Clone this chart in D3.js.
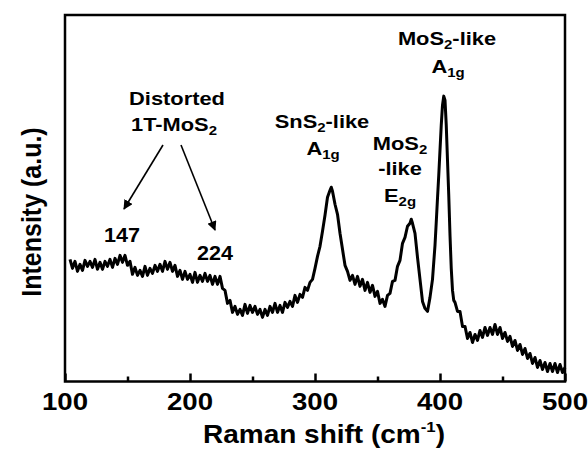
<!DOCTYPE html>
<html>
<head>
<meta charset="utf-8">
<script src="https://cdn.jsdelivr.net/npm/d3@7"></script>
<style>
  body { margin: 0; background: #fff; }
  text { font-family: "Liberation Sans", Arial, sans-serif; font-weight: bold; fill: #000; }
</style>
</head>
<body>
<div id="chart"></div>
<script>
// Raman shift (cm-1) and intensity (a.u.)
const shift = [
  104,106,108,110,112,114,116,118,120,122,124,126,128,130,132,134,136,138,140,142,
  144,146,148,150,152,154,156,158,160,162,164,166,168,170,172,174,176,178,180,182,
  184,186,188,190,192,194,196,198,200,202,204,206,208,210,212,214,216,218,220,222,
  224,226,228,230,232,234,236,238,240,242,244,246,248,250,252,254,256,258,260,262,
  264,266,268,270,272,274,276,278,280,282,284,286,288,290,292,294,296,298,300,302,
  304,306,308,310,312,313,314,316,318,320,322,324,326,328,330,332,334,336,338,340,
  342,344,346,348,350,352,354,356,358,360,362,364,366,368,370,372,374,376,377,378,
  380,382,384,386,388,390,392,394,396,397,398,399,400,401,402,403,404,405,406,407,
  408,409,410,411,412,414,416,418,420,422,424,426,428,430,432,434,436,438,440,442,
  444,446,448,450,452,454,456,458,460,462,464,466,468,470,472,474,476,478,480,482,
  484,486,488,490,492,494,496,498,500
];
const intensity = [
  122,113,120,110,117,111,121,115,120,114,122,112,119,112,120,115,122,114,123,117,
  126,119,126,116,120,107,114,106,111,105,115,106,113,108,116,110,117,110,120,112,
  119,110,116,105,111,102,110,102,107,99,109,99,106,100,108,100,106,97,105,97,
  105,93,91,78,81,69,75,67,72,66,77,68,76,69,75,67,72,64,72,66,
  75,69,78,69,76,69,79,74,80,75,86,79,87,84,94,91,99,102,113,125,
  135,150,166,184,191,194,190,177,167,148,132,116,110,101,106,97,105,95,102,91,
  99,89,96,85,90,78,82,75,86,88,100,101,115,121,138,144,155,158,162,158,
  148,124,102,80,73,70,84,102,136,159,183,206,231,256,276,285,281,256,221,186,
  146,113,91,81,79,70,70,55,55,43,49,39,47,41,51,44,54,46,54,47,
  57,47,54,43,49,40,45,35,41,31,37,27,33,23,28,18,24,14,21,12,
  19,10,18,10,18,9,17,9,14
];
const xTicks = [100, 200, 300, 400, 500];
const xMinor = [150, 250, 350, 450];

const width = 588, height = 450;
const margin = { top: 15, right: 23, bottom: 68.5, left: 65 };
const w = width - margin.left - margin.right,
  h = height - margin.top - margin.bottom;

const svg = d3.select("#chart").append("svg")
  .attr("width", width)
  .attr("height", height);

const g = svg.append("g")
  .attr("transform", "translate(" + margin.left + "," + margin.top + ")");

const x = d3.scaleLinear().domain([100, 500]).range([0, w]);
const y = d3.scaleLinear().domain([0, 366]).range([h, 0]);

const data = shift.map(function (d, i) { return { s: d, v: intensity[i] }; });

const line = d3.line()
  .x(function (d) { return x(d.s); })
  .y(function (d) { return y(d.v); });

g.append("path")
  .datum(data)
  .attr("d", line)
  .attr("fill", "none")
  .attr("stroke", "#000")
  .attr("stroke-width", 3)
  .attr("stroke-linejoin", "round");

// frame
g.append("rect")
  .attr("width", w).attr("height", h)
  .attr("fill", "none").attr("stroke", "#000").attr("stroke-width", 2.5);

// bottom axis, ticks pointing inward; labels drawn separately (stretched like the original)
g.append("g")
  .attr("transform", "translate(0," + h + ")")
  .call(d3.axisBottom(x).tickValues(xTicks).tickSize(-8).tickFormat(""))
  .call(function (s) {
    s.select(".domain").remove();
    s.selectAll("line").attr("stroke-width", 2.5);
  });

g.append("g")
  .attr("transform", "translate(0," + h + ")")
  .call(d3.axisBottom(x).tickValues(xMinor).tickSize(-5).tickFormat(""))
  .call(function (s) {
    s.select(".domain").remove();
    s.selectAll("line").attr("stroke-width", 2.5);
  });

xTicks.forEach(function (v) {
  svg.append("text")
    .attr("transform", "translate(" + (margin.left + x(v)) + ",410) scale(1.15,1)")
    .attr("text-anchor", "middle").attr("font-size", 24)
    .text(v);
});

// axis titles
const xt = svg.append("text")
  .attr("transform", "translate(324,443) scale(1.12,1)")
  .attr("text-anchor", "middle").attr("font-size", 25);
xt.append("tspan").text("Raman shift (cm");
xt.append("tspan").attr("font-size", 15).attr("dy", -11).text("-1");
xt.append("tspan").attr("dy", 11).text(")");

svg.append("text")
  .attr("transform", "translate(41,212) rotate(-90) scale(1,1.12)")
  .attr("text-anchor", "middle").attr("font-size", 25)
  .text("Intensity (a.u.)");

// annotations
function label(px, py, parts, size, sx) {
  const t = svg.append("text")
    .attr("transform", "translate(" + px + "," + py + ") scale(" + (sx || 1.15) + ",1)")
    .attr("text-anchor", "middle").attr("font-size", size || 19);
  let shifted = false;
  parts.forEach(function (p) {
    if (p.sub) {
      t.append("tspan").attr("font-size", 13).attr("dy", 4).text(p.sub);
      shifted = true;
    } else {
      const ts = t.append("tspan").text(p.t);
      if (shifted) { ts.attr("dy", -4); shifted = false; }
    }
  });
  return t;
}

label(177, 105, [{ t: "Distorted" }]);
label(174, 131, [{ t: "1T-MoS" }, { sub: "2" }]);
label(322, 128, [{ t: "SnS" }, { sub: "2" }, { t: "-like" }]);
label(323, 155, [{ t: "A" }, { sub: "1g" }]);
label(400, 150, [{ t: "MoS" }, { sub: "2" }]);
label(400, 175, [{ t: "-like" }]);
label(400, 202, [{ t: "E" }, { sub: "2g" }]);
label(447, 45, [{ t: "MoS" }, { sub: "2" }, { t: "-like" }]);
label(448, 73, [{ t: "A" }, { sub: "1g" }]);
label(122, 242, [{ t: "147" }], 20, 1.08);
label(215, 260, [{ t: "224" }], 20, 1.08);

// arrows
const defs = svg.append("defs");
defs.append("marker")
  .attr("id", "head").attr("viewBox", "0 0 10 10")
  .attr("refX", 9).attr("refY", 5)
  .attr("markerWidth", 6).attr("markerHeight", 6)
  .attr("orient", "auto")
  .append("path").attr("d", "M0,0 L10,5 L0,10 z").attr("fill", "#000");

[[163, 145, 124, 209], [181, 145, 215, 230]].forEach(function (a) {
  svg.append("line")
    .attr("x1", a[0]).attr("y1", a[1]).attr("x2", a[2]).attr("y2", a[3])
    .attr("stroke", "#000").attr("stroke-width", 1.6)
    .attr("marker-end", "url(#head)");
});
</script>
</body>
</html>
